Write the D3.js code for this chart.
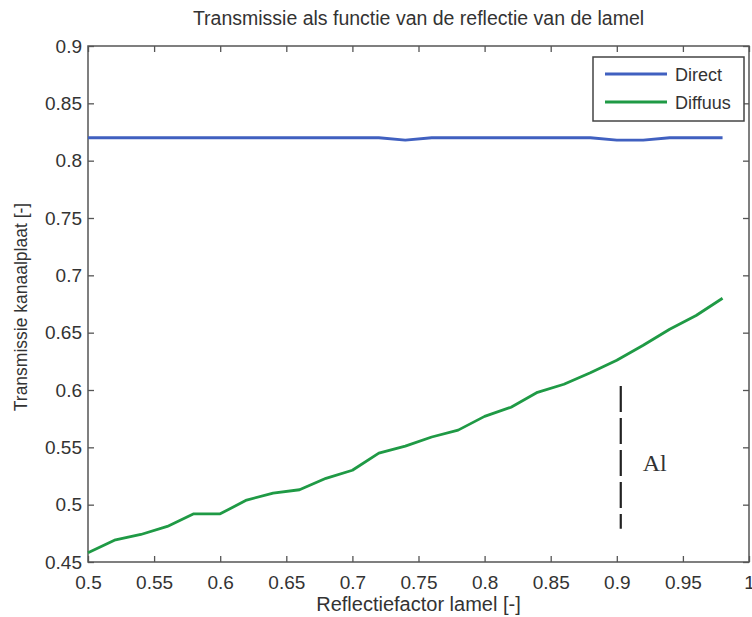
<!DOCTYPE html>
<html><head><meta charset="utf-8">
<script src="https://cdn.jsdelivr.net/npm/d3@7"></script>
<style>
html,body{margin:0;padding:0;background:#fff;}
svg{display:block;}
text{font-family:"Liberation Sans",Arial,sans-serif;fill:#333;}
</style></head>
<body>
<svg id="chart" width="752" height="617"></svg>
<script>
const reflectie = [0.50,0.52,0.54,0.56,0.58,0.60,0.62,0.64,0.66,0.68,0.70,0.72,0.74,0.76,0.78,0.80,0.82,0.84,0.86,0.88,0.90,0.92,0.94,0.96,0.98];
const direct = [0.82,0.82,0.82,0.82,0.82,0.82,0.82,0.82,0.82,0.82,0.82,0.82,0.818,0.82,0.82,0.82,0.82,0.82,0.82,0.82,0.818,0.818,0.82,0.82,0.82];
const diffuus = [0.458,0.469,0.474,0.481,0.492,0.492,0.504,0.510,0.513,0.523,0.530,0.545,0.551,0.559,0.565,0.577,0.585,0.598,0.605,0.615,0.626,0.639,0.653,0.665,0.680];
const seriesNames = ["Direct","Diffuus"];
const seriesColors = ["#4060c0","#1f9a45"];
const xTicks = [0.5,0.55,0.6,0.65,0.7,0.75,0.8,0.85,0.9,0.95,1];
const yTicks = [0.45,0.5,0.55,0.6,0.65,0.7,0.75,0.8,0.85,0.9];
const titleText = "Transmissie als functie van de reflectie van de lamel";
const xLabel = "Reflectiefactor lamel [-]";
const yLabel = "Transmissie kanaalplaat [-]";
const annotX = 0.903, annotY0 = 0.6035, annotY1 = 0.479, annotText = "Al";

const svg = d3.select("#chart");
const L = 88, R = 749, T = 46, B = 562;
const x = d3.scaleLinear().domain([0.5,1]).range([L,R]);
const y = d3.scaleLinear().domain([0.45,0.9]).range([B,T]);
const fmt = d => String(+d.toFixed(2));
const FONT = '"Liberation Sans",Arial,sans-serif';

// axes
const axB = svg.append("g").attr("transform",`translate(0,${B})`)
  .call(d3.axisBottom(x).tickValues(xTicks).tickFormat(fmt).tickSizeInner(-6).tickSizeOuter(0).tickPadding(14));
const axT = svg.append("g").attr("transform",`translate(0,${T})`)
  .call(d3.axisTop(x).tickValues(xTicks).tickFormat("").tickSizeInner(-6).tickSizeOuter(0));
const axL = svg.append("g").attr("transform",`translate(${L},0)`)
  .call(d3.axisLeft(y).tickValues(yTicks).tickFormat(fmt).tickSizeInner(-6).tickSizeOuter(0).tickPadding(6));
const axR = svg.append("g").attr("transform",`translate(${R},0)`)
  .call(d3.axisRight(y).tickValues(yTicks).tickFormat("").tickSizeInner(-6).tickSizeOuter(0));
[axB,axT,axL,axR].forEach(g=>{
  g.select(".domain").remove();
  g.selectAll(".tick line").attr("stroke","#555").attr("stroke-width",1.3);
  g.selectAll(".tick text").style("font-family",FONT).attr("font-size",19).attr("fill","#3a3a3a");
});
svg.append("rect").attr("x",L).attr("y",T).attr("width",R-L).attr("height",B-T)
  .attr("fill","none").attr("stroke","#555").attr("stroke-width",1.5);

// lines
const line = d3.line().x((d,i)=>x(reflectie[i])).y(d=>y(d));
[direct,diffuus].forEach((s,k)=>{
  svg.append("path").datum(s).attr("d",line).attr("fill","none")
    .attr("stroke",seriesColors[k]).attr("stroke-width",2.8).attr("stroke-linejoin","round");
});

// annotation
svg.append("line").attr("x1",x(annotX)).attr("x2",x(annotX)).attr("y1",y(annotY0)).attr("y2",y(annotY1))
  .attr("stroke","#222").attr("stroke-width",2.2).attr("stroke-dasharray","26,6");
svg.append("text").attr("x",x(annotX)+22).attr("y",y((annotY0+annotY1)/2)+14)
  .style("font-family",'"Liberation Serif","Times New Roman",serif').attr("font-size",24).attr("fill","#222").text(annotText);

// legend
const lg = svg.append("g");
lg.append("rect").attr("x",593).attr("y",57).attr("width",151).attr("height",64)
  .attr("fill","#fff").attr("stroke","#444").attr("stroke-width",1.5);
seriesNames.forEach((n,k)=>{
  const yy = 74 + k*28;
  lg.append("line").attr("x1",605).attr("x2",667).attr("y1",yy).attr("y2",yy)
    .attr("stroke",seriesColors[k]).attr("stroke-width",2.8);
  lg.append("text").attr("x",675).attr("y",yy+7).attr("font-size",18).attr("fill","#3a3a3a").text(n);
});

// titles
svg.append("text").attr("x",(L+R)/2).attr("y",25).attr("text-anchor","middle").attr("font-size",19.5).attr("fill","#3a3a3a").text(titleText);
svg.append("text").attr("x",(L+R)/2).attr("y",611).attr("text-anchor","middle").attr("font-size",20).attr("fill","#3a3a3a").text(xLabel);
svg.append("text").attr("transform",`translate(27,307) rotate(-90)`).attr("text-anchor","middle").attr("font-size",17.5).attr("fill","#3a3a3a").text(yLabel);
</script>
</body></html>
